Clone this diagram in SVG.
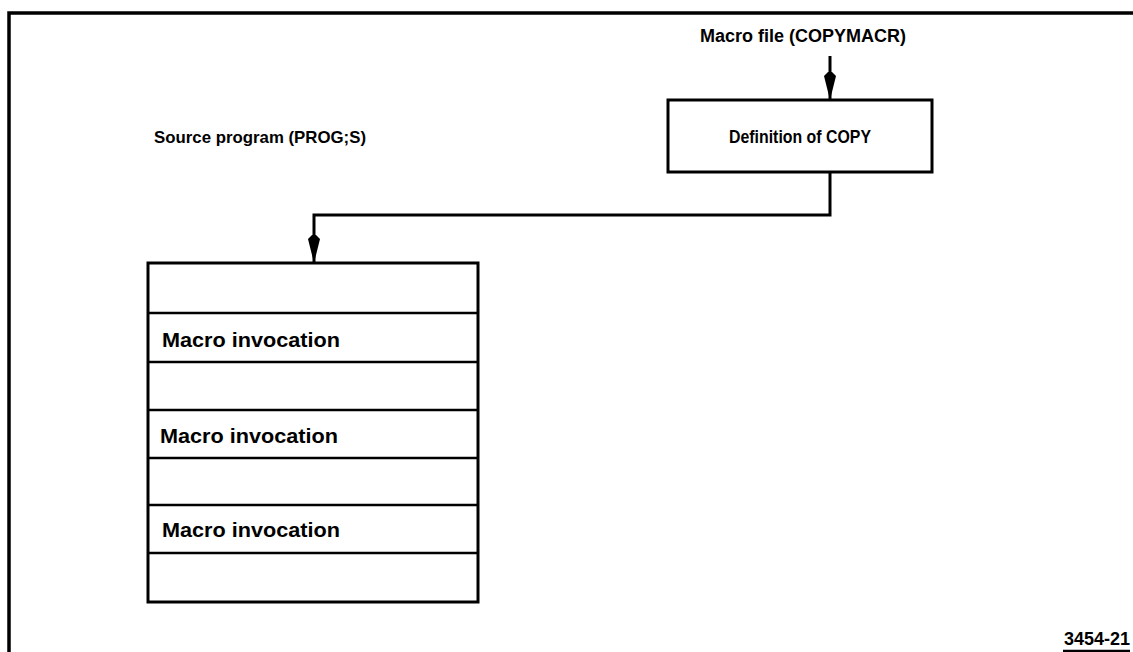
<svg xmlns="http://www.w3.org/2000/svg" width="1133" height="652" viewBox="0 0 1133 652">
  <style>
    .frame { fill: none; stroke: #000; stroke-width: 3.5; }
    .box { fill: #fff; stroke: #000; stroke-width: 3; }
    .row { stroke: #000; stroke-width: 2.5; }
    .wire { fill: none; stroke: #000; stroke-width: 3; }
    .lbl { font-family: "Liberation Sans", Arial, sans-serif; font-weight: bold; font-size: 18px; fill: #000; }
    .mid { font-family: "Liberation Sans", Arial, sans-serif; font-weight: bold; font-size: 17px; fill: #000; }
    .cell { font-family: "Liberation Sans", Arial, sans-serif; font-weight: bold; font-size: 20px; fill: #000; }
  </style>
  <defs>
    <marker id="arrow" viewBox="0 0 28 12" refX="28" refY="6" markerWidth="28" markerHeight="12" markerUnits="userSpaceOnUse" orient="auto">
      <path d="M0,4 L4,0 L28,6 L4,12 L0,8 z" fill="#000"/>
    </marker>
  </defs>

  <rect width="1133" height="652" fill="#fff"/>

  <!-- outer frame (top and left edges) -->
  <path class="frame" d="M9,652 V13 H1133"/>

  <!-- connectors -->
  <g id="connectors">
    <line class="wire" x1="830" y1="56" x2="830" y2="100" marker-end="url(#arrow)"/>
    <path class="wire" d="M830,172 V215 H314 V263" marker-end="url(#arrow)"/>
  </g>

  <!-- macro file label -->
  <g id="macro-file">
    <text class="lbl" x="700" y="42">Macro file (COPYMACR)</text>
  </g>

  <!-- definition box -->
  <g id="definition">
    <rect class="box" x="668" y="100" width="264" height="72"/>
    <text class="lbl" x="800" y="143" text-anchor="middle" textLength="142" lengthAdjust="spacingAndGlyphs">Definition of COPY</text>
  </g>

  <!-- source program -->
  <g id="source-label">
    <text class="mid" x="154" y="143" textLength="212" lengthAdjust="spacingAndGlyphs">Source program (PROG;S)</text>
  </g>

  <g id="source-program">
    <rect class="box" x="148" y="263" width="330" height="339"/>
    <line class="row" x1="148" y1="313" x2="478" y2="313"/>
    <line class="row" x1="148" y1="362" x2="478" y2="362"/>
    <line class="row" x1="148" y1="410" x2="478" y2="410"/>
    <line class="row" x1="148" y1="458" x2="478" y2="458"/>
    <line class="row" x1="148" y1="505" x2="478" y2="505"/>
    <line class="row" x1="148" y1="553" x2="478" y2="553"/>
    <text class="cell" x="162" y="347" textLength="178" lengthAdjust="spacingAndGlyphs">Macro invocation</text>
    <text class="cell" x="160" y="443" textLength="178" lengthAdjust="spacingAndGlyphs">Macro invocation</text>
    <text class="cell" x="162" y="537" textLength="178" lengthAdjust="spacingAndGlyphs">Macro invocation</text>
  </g>

  <!-- figure number -->
  <g id="figure-number">
    <text class="lbl" x="1130" y="645" text-anchor="end">3454-21</text>
    <line class="row" x1="1063" y1="651" x2="1130" y2="651"/>
  </g>
</svg>
